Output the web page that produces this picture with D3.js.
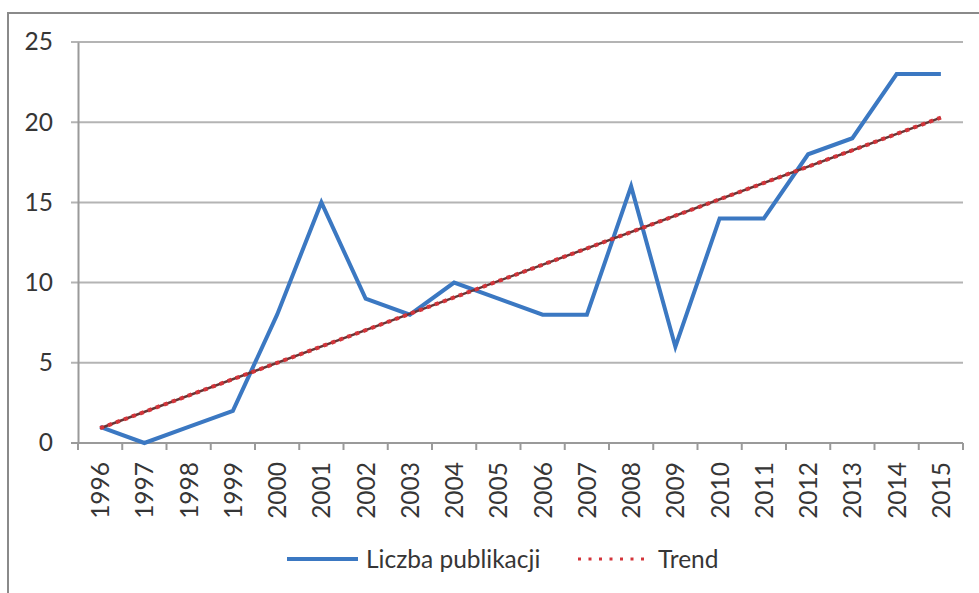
<!DOCTYPE html>
<html><head><meta charset="utf-8">
<script src="https://cdn.jsdelivr.net/npm/d3@7"></script>
<style>html,body{margin:0;padding:0;background:#fff;}svg{display:block;}</style>
</head><body>
<svg id="c" width="979" height="593"></svg>
<script>
const years = ["1996","1997","1998","1999","2000","2001","2002","2003","2004","2005","2006","2007","2008","2009","2010","2011","2012","2013","2014","2015"];
const publications = [1,0,1,2,8,15,9,8,10,9,8,8,16,6,14,14,18,19,23,23];
const trendEnds = [0.92, 20.29];
const yTicks = [0,5,10,15,20,25];
const seriesNames = ["Liczba publikacji","Trend"];

(function(){
const svg = d3.select("#c");
const font = "Lato, 'Open Sans', sans-serif";
const fs = 24.5;
const pL = 78, pR = 963, pT = 42, pB = 443;

// outer frame
svg.append("rect").attr("x",8).attr("y",13).attr("width",990).attr("height",600)
  .attr("fill","#fff").attr("stroke","#8a8a8a").attr("stroke-width",2);

const x = d3.scaleBand().domain(years).range([pL,pR]);
const y = d3.scaleLinear().domain([0,25]).range([pB,pT]);

// gridlines
svg.append("g").selectAll("line").data(yTicks).join("line")
  .attr("x1",71).attr("x2",pR).attr("y1",d=>y(d)).attr("y2",d=>y(d))
  .attr("stroke",d=>d===0?"#9a9a9a":"#b4b4b4").attr("stroke-width",2);

// y axis
const yAxis = svg.append("g").attr("transform",`translate(${pL},0)`)
  .call(d3.axisLeft(y).tickValues(yTicks).tickSize(0).tickPadding(25));
yAxis.select(".domain").attr("stroke","#9a9a9a").attr("stroke-width",2);
yAxis.selectAll("text").attr("font-family",font).attr("font-size",fs).attr("fill","#363636");

// x axis ticks
const xt = x.domain().map(d=>x(d)).concat([pR]);
svg.append("g").selectAll("line").data(xt).join("line")
  .attr("x1",d=>d).attr("x2",d=>d).attr("y1",pB).attr("y2",pB+7)
  .attr("stroke","#9a9a9a").attr("stroke-width",2);

svg.append("g").selectAll("text").data(years).join("text")
  .attr("transform",d=>`translate(${x(d)+x.bandwidth()/2+9},${pB+19}) rotate(-90)`)
  .attr("text-anchor","end")
  .attr("font-family",font).attr("font-size",fs).attr("fill","#363636")
  .text(d=>d);

// data line
const cx = d=>x(d)+x.bandwidth()/2;
const line = d3.line().x((d,i)=>cx(years[i])).y(d=>y(d));
svg.append("path").datum(publications).attr("d",line)
  .attr("fill","none").attr("stroke","#3b78c2").attr("stroke-width",4).attr("stroke-linejoin","miter");

// trend
const tx = [cx(years[0]), cx(years[years.length-1])];
const tline = d3.line().x((d,i)=>tx[i]).y(d=>y(d));
svg.append("path").datum(trendEnds).attr("d",tline)
  .attr("fill","none").attr("stroke","#6b3434").attr("stroke-width",2.5);
svg.append("path").datum(trendEnds).attr("d",tline)
  .attr("fill","none").attr("stroke","#d3343a").attr("stroke-width",4).attr("stroke-dasharray","4,4.5");

// legend
const lg = svg.append("g");
lg.append("line").attr("x1",287).attr("x2",358).attr("y1",559).attr("y2",559)
  .attr("stroke","#3b78c2").attr("stroke-width",4);
lg.append("text").attr("x",366).attr("y",568).attr("font-family",font).attr("font-size",fs)
  .attr("fill","#363636").text(seriesNames[0]);
lg.append("line").attr("x1",578).attr("x2",648).attr("y1",559).attr("y2",559)
  .attr("stroke","#d3343a").attr("stroke-width",3).attr("stroke-dasharray","3,7.5");
lg.append("text").attr("x",658).attr("y",568).attr("font-family",font).attr("font-size",fs)
  .attr("fill","#363636").text(seriesNames[1]);
})();
</script>
</body></html>
